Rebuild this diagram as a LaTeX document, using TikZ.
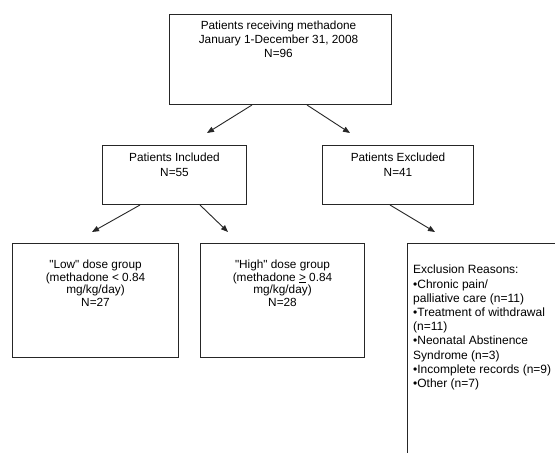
\documentclass[tikz,border=0pt]{standalone}
\usepackage{fontspec}
\setmainfont{Liberation Sans}[Ligatures=TeXOff]
\usetikzlibrary{arrows.meta,calc}
\begin{document}
\begin{tikzpicture}[x=1pt,y=1pt,
  box/.style={draw=black!85,line width=1pt,inner sep=0pt,anchor=north west},
  txt/.style={inner sep=0pt,align=center,font=\fontsize{11.8}{14}\selectfont},
  arr/.style={draw=black!85,line width=0.9pt,-{Triangle[length=7pt,width=5.5pt]}}]
\useasboundingbox (0,0) rectangle (555,-453);
\clip (0,0) rectangle (555,-453);
\fill[white] (0,0) rectangle (555,-453);
% boxes
\node[box,minimum width=222pt,minimum height=90pt] (top) at (169,-14) {};
\node[box,minimum width=144pt,minimum height=59pt] (incl) at (102,-145) {};
\node[box,minimum width=151pt,minimum height=59pt] (excl) at (322,-145) {};
\node[box,minimum width=166pt,minimum height=114pt] (low) at (12,-243) {};
\node[box,minimum width=164pt,minimum height=114pt] (high) at (200,-243) {};
\node[box,minimum width=220pt,minimum height=240pt] (reasons) at (407,-243) {};
% texts
\node[txt,anchor=north] (toptxt) at ($(top.north)+(-2,-7)$)
  {Patients receiving methadone\\January 1-December 31, 2008\\N=96};
\node[txt,anchor=north,font=\fontsize{11.8}{15}\selectfont] (incltxt) at ($(incl.north)+(0,-8)$)
  {Patients Included\\N=55};
\node[txt,anchor=north,font=\fontsize{11.8}{15}\selectfont] (excltxt) at ($(excl.north)+(0,-8)$)
  {Patients Excluded\\N=41};
\node[txt,anchor=north,font=\fontsize{11.8}{12.5}\selectfont] (lowtxt) at ($(low.north)+(0,-17)$)
  {"Low" dose group\\(methadone < 0.84\\mg/kg/day)\\N=27};
\node[txt,anchor=north,font=\fontsize{11.8}{12.5}\selectfont] (hightxt) at ($(high.north)+(0,-17)$)
  {"High" dose group\\(methadone \underline{>} 0.84\\mg/kg/day)\\N=28};
\node[txt,anchor=north west,align=left,font=\fontsize{12}{14.2}\selectfont] (reastxt) at (413,-265)
  {Exclusion Reasons:\\•Chronic pain/\\palliative care (n=11)\\•Treatment of withdrawal\\(n=11)\\•Neonatal Abstinence\\Syndrome (n=3)\\•Incomplete records (n=9)\\•Other (n=7)};
% connector end points
\coordinate (t1) at ($(top.south west)+(83,0)$);
\coordinate (t2) at ($(top.south west)+(138,0)$);
\coordinate (e1) at (207,-133);
\coordinate (e2) at (350,-133);
\coordinate (i1) at ($(incl.south west)+(38,0)$);
\coordinate (i2) at ($(incl.south west)+(98,0)$);
\coordinate (e3) at (92,-232);
\coordinate (e4) at (228,-232);
\coordinate (x1) at ($(excl.south west)+(68,0)$);
\coordinate (e5) at (435,-232);
\draw[arr] (t1) -- (e1);
\draw[arr] (t2) -- (e2);
\draw[arr] (i1) -- (e3);
\draw[arr] (i2) -- (e4);
\draw[arr] (x1) -- (e5);
\end{tikzpicture}
\end{document}
